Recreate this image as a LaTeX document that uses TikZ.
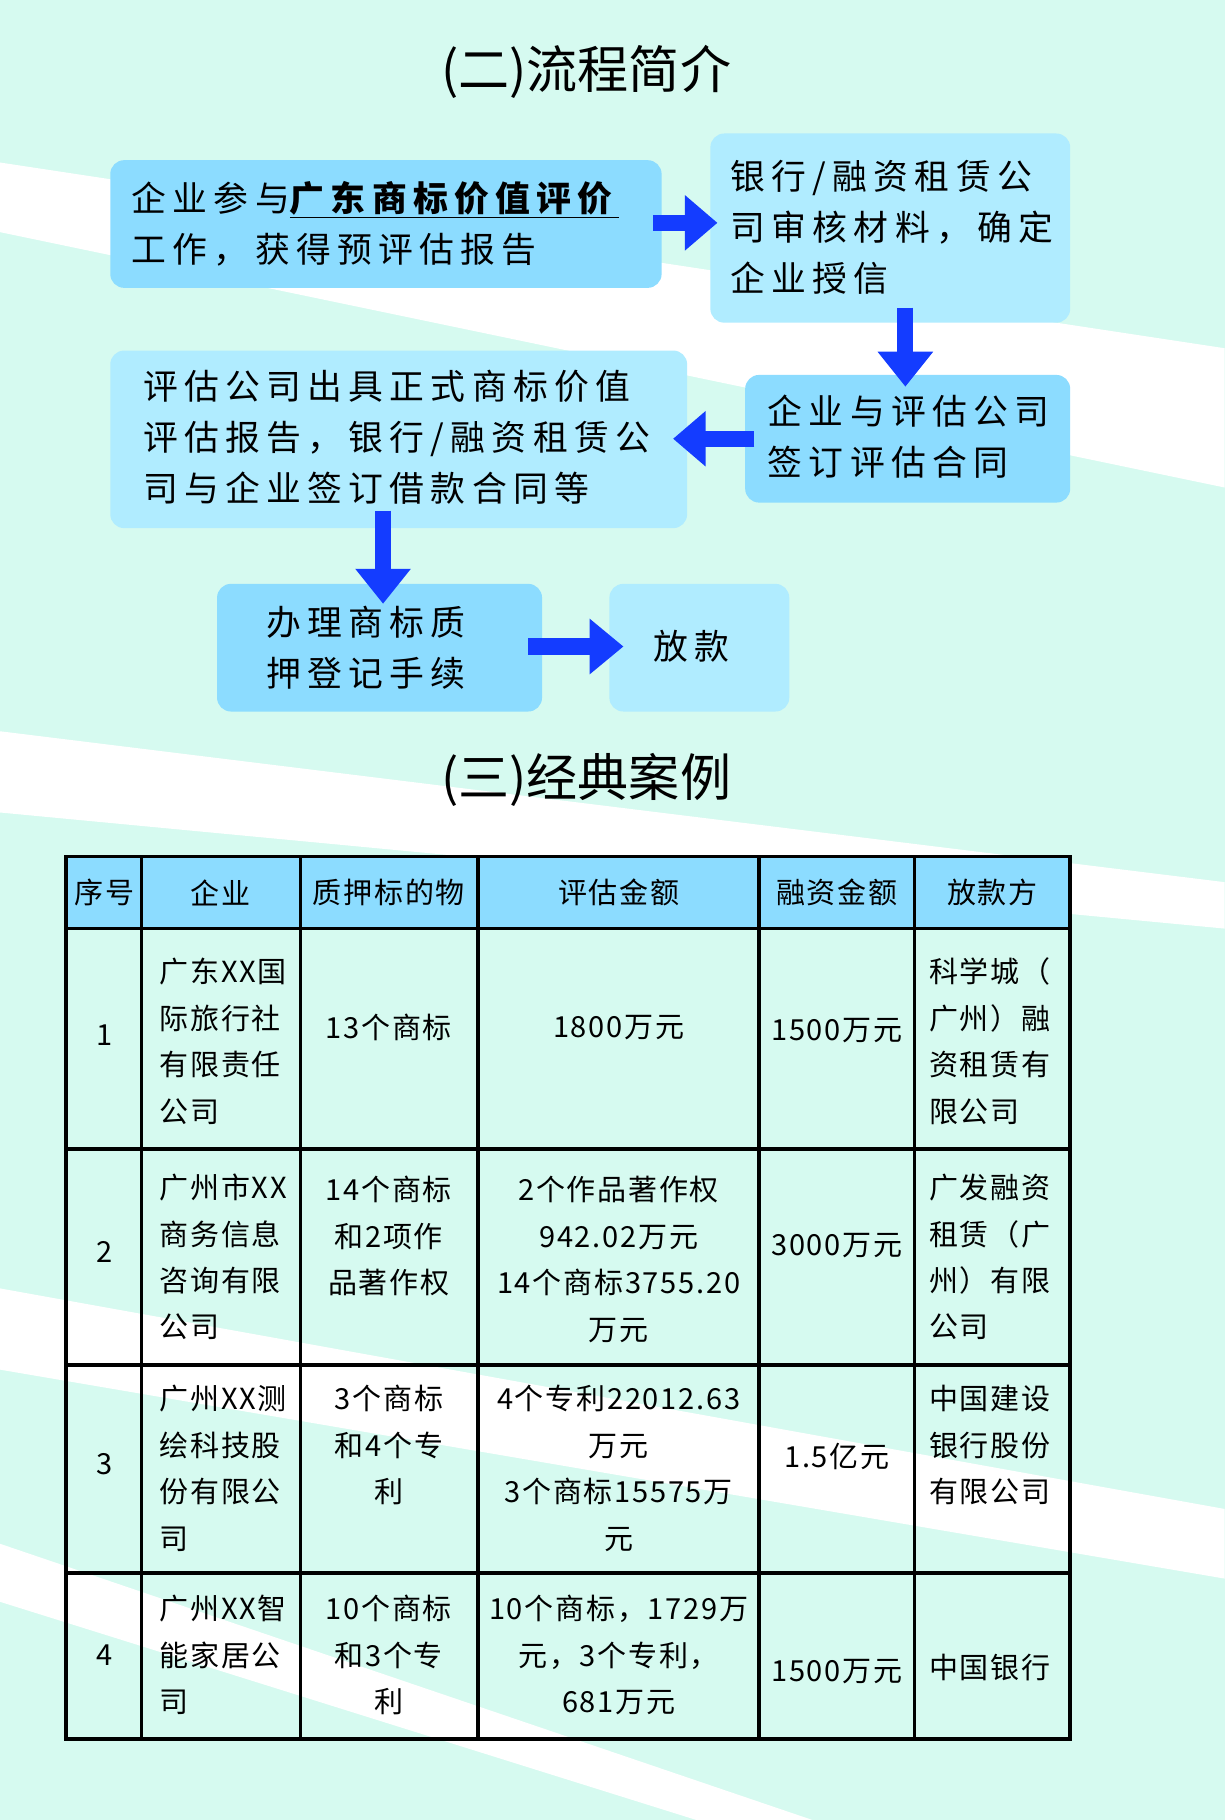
\documentclass[tikz,border=0pt]{standalone}
\usepackage{fontspec}
\setmainfont{Noto Sans CJK SC}
\newfontfamily\wide[LetterSpace=18]{Noto Sans CJK SC}
\newfontfamily\semi[LetterSpace=6]{Noto Sans CJK SC}
\usetikzlibrary{shapes.arrows}
\definecolor{mint}{RGB}{214,250,240}
\definecolor{bmid}{RGB}{140,220,255}
\definecolor{blite}{RGB}{176,236,255}
\definecolor{arr}{RGB}{20,60,255}
\begin{document}
\begin{tikzpicture}[x=1pt,y=-1pt,
 box/.style={rounded corners=12pt,inner sep=0},
 ft/.style={font=\wide\fontsize{30}{44}\selectfont,align=left,anchor=west},
 tt/.style={font=\semi\fontsize{25}{40}\selectfont,align=left,anchor=west},
 tc/.style={font=\semi\fontsize{25}{40}\selectfont,align=center},
 bar/.style={arr,line width=14pt},
 tip/.style={fill=arr,draw=none}]
\useasboundingbox (0,0) rectangle (1055,1568);
\fill[mint] (0,0) rectangle (1055,1568);
\fill[white] (0,140) -- (1055,300) -- (1055,420) -- (0,200) -- cycle;
\fill[white] (0,630) -- (1055,760) -- (1055,800) -- (0,700) -- cycle;
\fill[white] (0,1110) -- (1055,1300) -- (1055,1360) -- (0,1180) -- cycle;
\fill[white] (0,1330) -- (700,1568) -- (600,1568) -- (0,1380) -- cycle;
\node[font=\fontsize{44}{50}\selectfont] (t1) at (505,62) {(二)流程简介};
\node[font=\fontsize{44}{50}\selectfont] (t2) at (505,672) {(三)经典案例};
% boxes
\fill[bmid,box] (95,138) rectangle (570,248);
\node[ft] (b1t) at (110,193) {企业参与\underline{\textbf{广东商标价值评价}}\\工作，获得预评估报告};
\fill[blite,box] (612,115) rectangle (922,278);
\node[ft] (b2t) at (626,196) {银行/融资租赁公\\司审核材料，确定\\企业授信};
\fill[blite,box] (95,302) rectangle (592,455);
\node[ft] (b3t) at (120,377) {评估公司出具正式商标价值\\评估报告，银行/融资租赁公\\司与企业签订借款合同等};
\fill[bmid,box] (642,323) rectangle (922,433);
\node[ft] (b4t) at (658,376) {企业与评估公司\\签订评估合同};
\fill[bmid,box] (187,503) rectangle (467,613);
\node[ft] (b5t) at (226,558) {办理商标质\\押登记手续};
\fill[blite,box] (525,503) rectangle (680,613);
\node[font=\wide\fontsize{30}{44}\selectfont] (b6t) at (596,557) {放款};
% arrows
\coordinate (a1s) at (563,192); \coordinate (a1e) at (592,192);
\draw[bar] (a1s) -- (a1e); \fill[tip] (590,168) -- (618,192) -- (590,216) -- cycle;
\coordinate (a2s) at (780,265); \coordinate (a2e) at (780,305);
\draw[bar] (a2s) -- (a2e); \fill[tip] (756,303) -- (780,333) -- (804,303) -- cycle;
\coordinate (a3s) at (650,378); \coordinate (a3e) at (606,378);
\draw[bar] (a3s) -- (a3e); \fill[tip] (608,354) -- (580,378) -- (608,402) -- cycle;
\coordinate (a4s) at (330,440); \coordinate (a4e) at (330,492);
\draw[bar] (a4s) -- (a4e); \fill[tip] (306,490) -- (330,520) -- (354,490) -- cycle;
\coordinate (a5s) at (455,557); \coordinate (a5e) at (510,557);
\draw[bar] (a5s) -- (a5e); \fill[tip] (508,533) -- (537,557) -- (508,581) -- cycle;
% table
\fill[bmid] (57,738) rectangle (922,800);
\foreach \x in {122,259,412,654,788} \draw[line width=3pt] (\x,738) -- (\x,1498);
\foreach \y in {800,990,1176,1355} \draw[line width=3pt] (57,\y) -- (922,\y);
\draw[line width=3pt] (57,738) rectangle (922,1498);
\foreach \t/\x in {序号/90,企业/190,质押标的物/335,评估金额/533,融资金额/721,放款方/855}
  \node[tc] (h\t) at (\x,769) {\t};
% row 1
\node[tc] (r1a) at (90,892) {1};
\node[tt] (r1b) at (134,897) {广东XX国\\际旅行社\\有限责任\\公司};
\node[tc] (r1c) at (335,885) {13个商标};
\node[tc] (r1d) at (533,885) {1800万元};
\node[tc] (r1e) at (721,888) {1500万元};
\node[tt] (r1f) at (797,897) {科学城（\\广州）融\\资租赁有\\限公司};
% row 2
\node[tc] (r2a) at (90,1079) {2};
\node[tt] (r2b) at (134,1083) {广州市XX\\商务信息\\咨询有限\\公司};
\node[tc] (r2c) at (335,1065) {14个商标\\和2项作\\品著作权};
\node[tc] (r2d) at (533,1085) {2个作品著作权\\942.02万元\\14个商标3755.20\\万元};
\node[tc] (r2e) at (721,1073) {3000万元};
\node[tt] (r2f) at (797,1083) {广发融资\\租赁（广\\州）有限\\公司};
% row 3
\node[tc] (r3a) at (90,1261) {3};
\node[tt] (r3b) at (134,1265) {广州XX测\\绘科技股\\份有限公\\司};
\node[tc] (r3c) at (335,1245) {3个商标\\和4个专\\利};
\node[tc] (r3d) at (533,1265) {4个专利22012.63\\万元\\3个商标15575万\\元};
\node[tc] (r3e) at (721,1255) {1.5亿元};
\node[tt] (r3f) at (797,1245) {中国建设\\银行股份\\有限公司};
% row 4
\node[tc] (r4a) at (90,1426) {4};
\node[tt] (r4b) at (134,1426) {广州XX智\\能家居公\\司};
\node[tc] (r4c) at (335,1426) {10个商标\\和3个专\\利};
\node[tc] (r4d) at (533,1426) {10个商标，1729万\\元，3个专利，\\681万元};
\node[tc] (r4e) at (721,1440) {1500万元};
\node[tt] (r4f) at (797,1437) {中国银行};
\end{tikzpicture}
\end{document}
